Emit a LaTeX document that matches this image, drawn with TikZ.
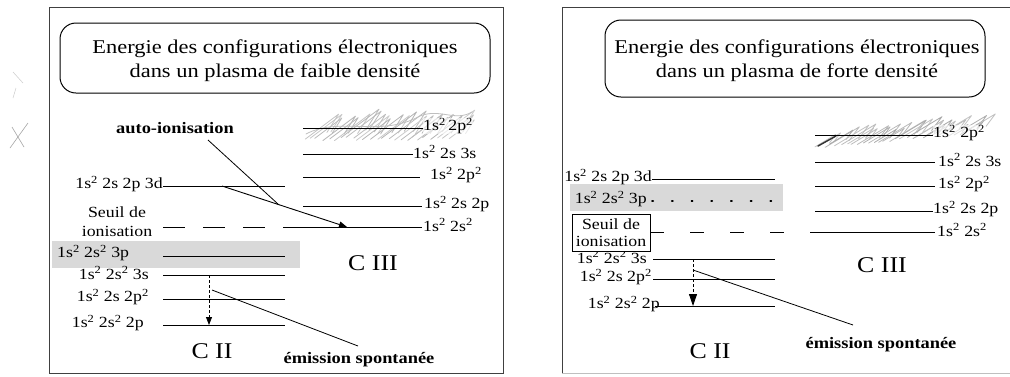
\documentclass[tikz,border=0pt]{standalone}
\usepackage{fontspec}
\setmainfont{Liberation Serif}[FakeStretch=1.15]
\usetikzlibrary{arrows.meta}
\newcommand{\sqq}{\textsuperscript{2}}
\begin{document}
\begin{tikzpicture}[x=1pt,y=-1pt,
  lvl/.style={line width=0.9pt},
  lab/.style={font=\fontsize{15.5}{17}\selectfont, inner sep=0pt},
  ttl/.style={font=\fontsize{19.5}{24}\selectfont, align=center, inner sep=0pt},
  big/.style={font=\fontsize{22.5}{25}\selectfont, inner sep=0pt},
  bl/.style={font=\bfseries\fontsize{16}{18}\selectfont, inner sep=0pt},
  frame/.style={line width=1pt, black!75},
  tbox/.style={line width=1pt, rounded corners=16pt},
  band/.style={fill=gray!30, draw=none},
  seuil/.style={dash pattern=on 22pt off 18pt, line width=0.8pt},
  pointer/.style={line width=0.8pt},
  trans/.style={line width=0.8pt, dash pattern=on 3pt off 2pt, -{Triangle[width=6pt,length=8pt]}},
  hatch/.style={line width=0.8pt, line join=round, line cap=round}
]
\useasboundingbox (0,0) rectangle (1010,376);
\fill[white] (0,0) rectangle (1010,376);

% stray marks
\draw[gray!70, line width=0.6pt] (10,148) -- (28,123) (12,127) -- (24,147);
\draw[gray!40, line width=0.5pt] (13,72) -- (23,83) (16,88) -- (13,98);

% ================= LEFT PANEL =================
\draw[frame] (49,7) rectangle (503,373);
\draw[tbox] (60,23) rectangle (490,93);
\node[ttl] (tL) at (275,61) {Energie des configurations électroniques\\dans un plasma de faible densité};

% grey band 3p
\fill[band] (52,241) rectangle (300,268);

% hatching top level CIII (scribble)
\pgfmathsetseed{11}
\foreach \i in {0,...,24} {
  \pgfmathsetmacro{\xa}{304+\i*6.0+2*rand}
  \pgfmathsetmacro{\ya}{139+2*rand}
  \pgfmathsetmacro{\len}{30+8*rand}
  \pgfmathsetmacro{\tone}{50+12*rand}
  \draw[hatch, gray!\tone] (\xa,\ya) -- ++(\len,-0.75*\len) -- ++(-0.35*\len,0.55*\len);
}
\draw[hatch, gray!50] (306,134) .. controls (340,116) and (380,138) .. (420,116) .. controls (440,108) and (455,122) .. (472,112);

% CIII levels
\coordinate (a1) at (303,128); \coordinate (b1) at (423,128);
\coordinate (a2) at (303,154); \coordinate (b2) at (413,154);
\coordinate (a3) at (303,177); \coordinate (b3) at (420,177);
\coordinate (a4) at (303,206); \coordinate (b4) at (422,206);
\coordinate (a5) at (303,227); \coordinate (b5) at (422,227);
\draw[lvl] (a1) -- (b1); \draw[lvl] (a2) -- (b2); \draw[lvl] (a3) -- (b3);
\draw[lvl] (a4) -- (b4); \draw[lvl] (a5) -- (b5);
\node[lab, anchor=west, fill=white, fill opacity=0.6, text opacity=1] (c1) at (423,126) {1s\sqq\,2p\sqq};
\node[lab, anchor=west] (c2) at (413,152) {1s\sqq\ 2s 3s};
\node[lab, anchor=west] (c3) at (430,175) {1s\sqq\ 2p\sqq};
\node[lab, anchor=west] (c4) at (424,204) {1s\sqq\ 2s 2p};
\node[lab, anchor=west] (c5) at (423,225) {1s\sqq\ 2s\sqq};
\node[big] (CIIIL) at (373,263) {C III};

% CII levels
\coordinate (d1) at (163,186); \coordinate (e1) at (285,186);
\coordinate (d2) at (163,256); \coordinate (e2) at (285,256);
\coordinate (d3) at (163,275); \coordinate (e3) at (285,275);
\coordinate (d4) at (163,299); \coordinate (e4) at (285,299);
\coordinate (d5) at (163,325); \coordinate (e5) at (285,325);
\draw[lvl] (d1) -- (e1); \draw[lvl] (d2) -- (e2); \draw[lvl] (d3) -- (e3);
\draw[lvl] (d4) -- (e4); \draw[lvl] (d5) -- (e5);
\node[lab, anchor=east] (f1) at (163,184) {1s\sqq\ 2s 2p 3d};
\node[lab, anchor=west] (f2) at (57,253) {1s\sqq\ 2s\sqq\ 3p};
\node[lab, anchor=east] (f3) at (149,273) {1s\sqq\ 2s\sqq\ 3s};
\node[lab, anchor=east] (f4) at (149,297) {1s\sqq\ 2s 2p\sqq};
\node[lab, anchor=east] (f5) at (144,323) {1s\sqq\ 2s\sqq\ 2p};
\node[big] (CIIL) at (212,351) {C II};

% threshold
\node[lab, align=center] (sL) at (117,222) {Seuil de\\[2pt]ionisation};
\coordinate (t1) at (163,227);
\draw[seuil] (t1) -- (a5);

% auto-ionisation
\coordinate (ai1) at (222,186);
\coordinate (ai2) at (347,227);
\draw[line width=0.9pt, -{Triangle[width=6pt,length=8pt]}] (ai1) -- (ai2);
\node[bl] (aiL) at (175,128) {auto-ionisation};
\coordinate (p1) at (208,140); \coordinate (p2) at (278,204);
\draw[pointer] (p1) -- (p2);

% spontaneous emission
\coordinate (s1) at (209,275); \coordinate (s2) at (209,325);
\draw[trans] (s1) -- (s2);
\coordinate (q1) at (212,290); \coordinate (q2) at (358,346);
\draw[pointer] (q1) -- (q2);
\node[bl] (esL) at (359,360) {émission spontanée};

% ================= RIGHT PANEL =================
\draw[frame] (1015,7) -- (562,7) -- (562,373);
\draw[gray!50, line width=0.8pt] (562,373) -- (1015,373);
\draw[tbox] (605,20) rectangle (985,97);
\node[ttl] (tR) at (797,61) {Energie des configurations électroniques\\dans un plasma de forte densité};

% grey band 3p
\fill[band] (570,184) rectangle (783,211);

% hatching (scribble)
\pgfmathsetseed{5}
\foreach \i in {0,...,28} {
  \pgfmathsetmacro{\xa}{814+\i*5.4+2*rand}
  \pgfmathsetmacro{\ya}{147-\i*0.5+2*rand}
  \pgfmathsetmacro{\len}{28+8*rand}
  \pgfmathsetmacro{\tone}{58+12*rand}
  \draw[hatch, gray!\tone] (\xa,\ya) -- ++(\len,-0.6*\len) -- ++(-0.3*\len,0.4*\len);
}
\draw[line width=1.4pt, black!80, line cap=round] (818,146) -- (836,136);

% CIII levels
\coordinate (g1) at (815,135); \coordinate (h1) at (933,135);
\coordinate (g2) at (815,162); \coordinate (h2) at (935,162);
\coordinate (g3) at (815,186); \coordinate (h3) at (935,186);
\coordinate (g4) at (815,211); \coordinate (h4) at (933,211);
\coordinate (g5) at (815,232); \coordinate (h5) at (935,232);
\draw[lvl] (g1) -- (h1); \draw[lvl] (g2) -- (h2); \draw[lvl] (g3) -- (h3);
\draw[lvl] (g4) -- (h4); \draw[lvl] (g5) -- (h5);
\node[lab, anchor=west, fill=white, fill opacity=0.6, text opacity=1] (k1) at (933,133) {1s\sqq\ 2p\sqq};
\node[lab, anchor=west] (k2) at (938,160) {1s\sqq\ 2s 3s};
\node[lab, anchor=west] (k3) at (938,184) {1s\sqq\ 2p\sqq};
\node[lab, anchor=west] (k4) at (933,209) {1s\sqq\ 2s 2p};
\node[lab, anchor=west] (k5) at (937,230) {1s\sqq\ 2s\sqq};
\node[big] (CIIIR) at (882,265) {C III};

% CII levels
\coordinate (m1) at (652,179); \coordinate (n1) at (775,179);
\coordinate (m2) at (652,201); \coordinate (n2) at (775,201);
\coordinate (m3) at (653,259); \coordinate (n3) at (775,259);
\coordinate (m4) at (653,279); \coordinate (n4) at (775,279);
\coordinate (m5) at (655,306); \coordinate (n5) at (775,306);
\draw[lvl] (m1) -- (n1);
\draw[line width=1.6pt, dash pattern=on 1.2pt off 18.5pt, line cap=round] (m2) -- (n2);
\draw[lvl] (m3) -- (n3); \draw[lvl] (m4) -- (n4); \draw[lvl] (m5) -- (n5);
\node[lab, anchor=east] (r1) at (652,177) {1s\sqq\ 2s 2p 3d};
\node[lab, anchor=east] (r2) at (647,199) {1s\sqq\ 2s\sqq\ 3p};
\node[lab, anchor=east] (r3) at (647,257) {1s\sqq\ 2s\sqq\ 3s};
\node[lab, anchor=east] (r4) at (652,277) {1s\sqq\ 2s 2p\sqq};
\node[lab, anchor=east] (r5) at (660,304) {1s\sqq\ 2s\sqq\ 2p};
\node[big] (CIIR) at (710,351) {C II};

% threshold box
\node[lab, align=center, draw, fill=white, line width=0.9pt, inner sep=1.5pt, minimum width=78pt, minimum height=37pt] (sR) at (611,232.5) {Seuil de\\[0pt]ionisation};
\draw[dash pattern=on 14pt off 26pt, line width=0.8pt] (sR.east |- g5) -- (g5);

% spontaneous emission
\coordinate (u1) at (693,259); \coordinate (u2) at (693,306);
\draw[line width=0.8pt, dash pattern=on 3pt off 2pt, -{Triangle[width=8pt,length=12pt]}] (u1) -- (u2);
\coordinate (v1) at (693,270); \coordinate (v2) at (853,325);
\draw[pointer] (v1) -- (v2);
\node[bl] (esR) at (881,345) {émission spontanée};
\end{tikzpicture}
\end{document}
